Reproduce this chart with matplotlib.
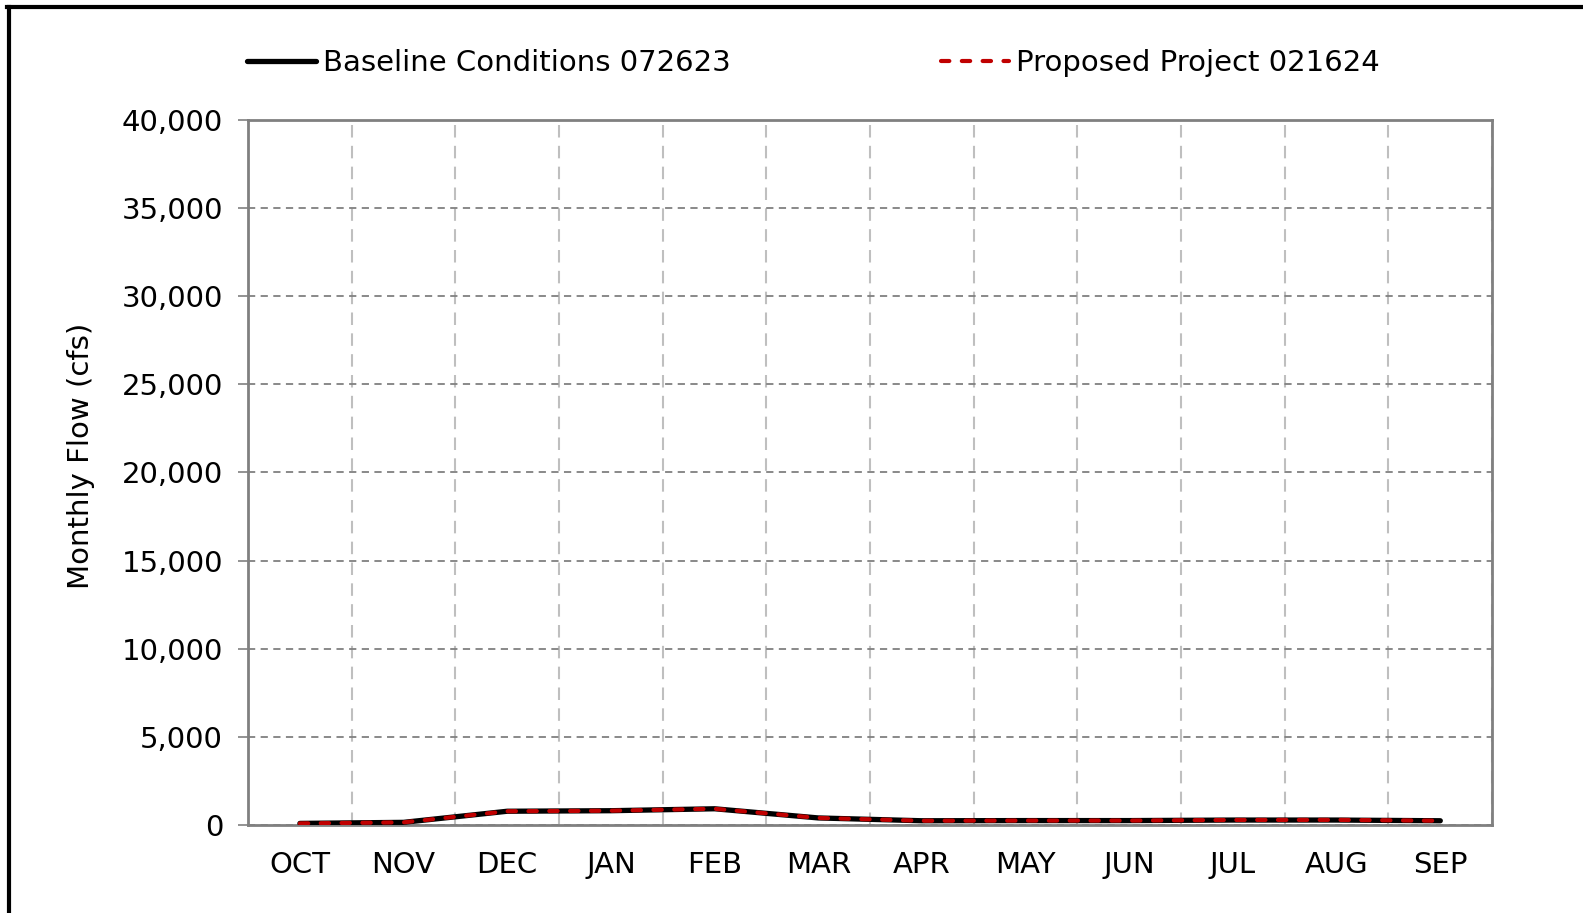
import numpy as np
from matplotlib import pyplot as plt
from matplotlib.lines import Line2D
from matplotlib.ticker import FuncFormatter, MultipleLocator

months = ['OCT', 'NOV', 'DEC', 'JAN', 'FEB', 'MAR', 'APR', 'MAY', 'JUN', 'JUL', 'AUG', 'SEP']
baseline = [90, 150, 780, 810, 920, 400, 240, 250, 250, 280, 280, 240]
proposed = [90, 150, 780, 810, 920, 400, 240, 250, 250, 285, 290, 240]
label_base = 'Baseline Conditions 072623'
label_prop = 'Proposed Project 021624'
ylabel = 'Monthly Flow (cfs)'

plt.rcParams['font.family'] = 'DejaVu Sans'
fs = 21

fig = plt.figure(figsize=(15.83, 9.13), dpi=100)
ax = fig.add_axes([0.1567, 0.0964, 0.7859, 0.7722])

x = np.arange(len(months))
ax.plot(x, baseline, color='black', lw=3.8, solid_capstyle='round', label=label_base, zorder=3)
ax.plot(x, proposed, color='#C00000', lw=3.0, dashes=(2, 3.0), dash_capstyle='round',
        label=label_prop, zorder=4)

ax.set_xlim(-0.5, 11.5)
ax.set_ylim(0, 40000)
ax.set_xticks(x)
ax.set_xticklabels(months, fontsize=fs)
ax.xaxis.set_minor_locator(MultipleLocator(1, offset=0.5))
ax.yaxis.set_major_locator(MultipleLocator(5000))
ax.yaxis.set_major_formatter(FuncFormatter(lambda v, p: f'{int(v):,}'))
ax.tick_params(axis='y', labelsize=fs, length=7, width=1.2, color='#808080', pad=11)
ax.tick_params(axis='x', which='both', length=0, pad=19)

ax.grid(True, axis='y', which='major', color='#808080', ls=(0, (4, 3)), lw=1.3)
ax.grid(True, axis='x', which='minor', color='#BFBFBF', ls=(0, (6, 4)), lw=1.5)
ax.set_axisbelow(True)
for s in ax.spines.values():
    s.set_color('#808080')
    s.set_linewidth(2)

ax.set_ylabel(ylabel, fontsize=fs, labelpad=19)
ax.yaxis.label.set_y(0.524)

fig.legend(loc='center', bbox_to_anchor=(0.514, 0.931), ncol=2, frameon=False,
           fontsize=fs, handlelength=2.35, handletextpad=0.25, columnspacing=7.2)

# outer frame (top and left edges)
fig.add_artist(Line2D([0.0045, 1], [1 - 7 / 913, 1 - 7 / 913], color='black', lw=3,
                      transform=fig.transFigure))
fig.add_artist(Line2D([0.0057, 0.0057], [0, 1 - 7 / 913], color='black', lw=3,
                      transform=fig.transFigure))

fig.savefig('out.png', dpi=100)
